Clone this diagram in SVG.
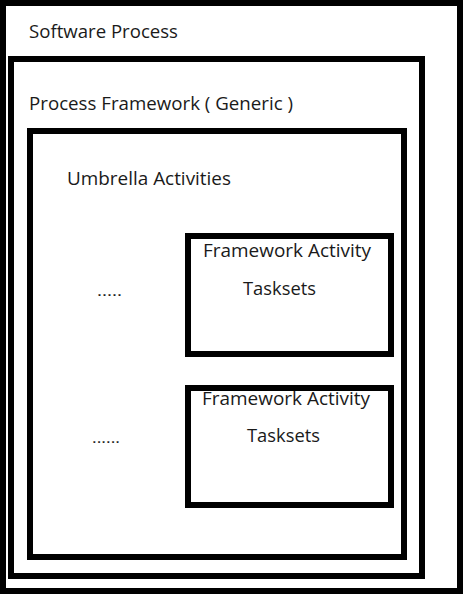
<svg xmlns="http://www.w3.org/2000/svg" width="463" height="596" viewBox="0 0 463 596">
<style>
.b{fill:#fff;stroke:#000;stroke-width:6}
.t{font-family:"Open Sans","Liberation Sans",sans-serif;font-size:18px;fill:#1a1a1a}
.d{font-family:"Open Sans","Liberation Sans",sans-serif;font-size:15px;fill:#1a1a1a}
</style>
<rect width="463" height="596" fill="#fff"/>
<g id="software-process">
<rect class="b" x="3" y="3" width="457" height="588"/>
<text class="t" x="29" y="38" textLength="149" lengthAdjust="spacingAndGlyphs">Software Process</text>
</g>
<g id="process-framework">
<rect class="b" x="11" y="59" width="411" height="517"/>
<text class="t" x="29" y="110" textLength="264" lengthAdjust="spacingAndGlyphs">Process Framework ( Generic )</text>
</g>
<g id="umbrella-activities">
<rect class="b" x="30" y="131" width="374" height="426"/>
<text class="t" x="67" y="185" textLength="164" lengthAdjust="spacingAndGlyphs">Umbrella Activities</text>
<text class="d" x="97" y="296" textLength="25" lengthAdjust="spacingAndGlyphs">.....</text>
<text class="d" x="92" y="443" textLength="28" lengthAdjust="spacingAndGlyphs">......</text>
</g>
<g id="framework-activity-1">
<rect class="b" x="188" y="236" width="203" height="118"/>
<text class="t" x="203" y="257" textLength="168" lengthAdjust="spacingAndGlyphs">Framework Activity</text>
<text class="t" x="243" y="295" textLength="73" lengthAdjust="spacingAndGlyphs">Tasksets</text>
</g>
<g id="framework-activity-2">
<rect class="b" x="188" y="388" width="203" height="117"/>
<text class="t" x="202" y="405" textLength="168" lengthAdjust="spacingAndGlyphs">Framework Activity</text>
<text class="t" x="247" y="442" textLength="73" lengthAdjust="spacingAndGlyphs">Tasksets</text>
</g>
<g id="connectors"/>
</svg>
